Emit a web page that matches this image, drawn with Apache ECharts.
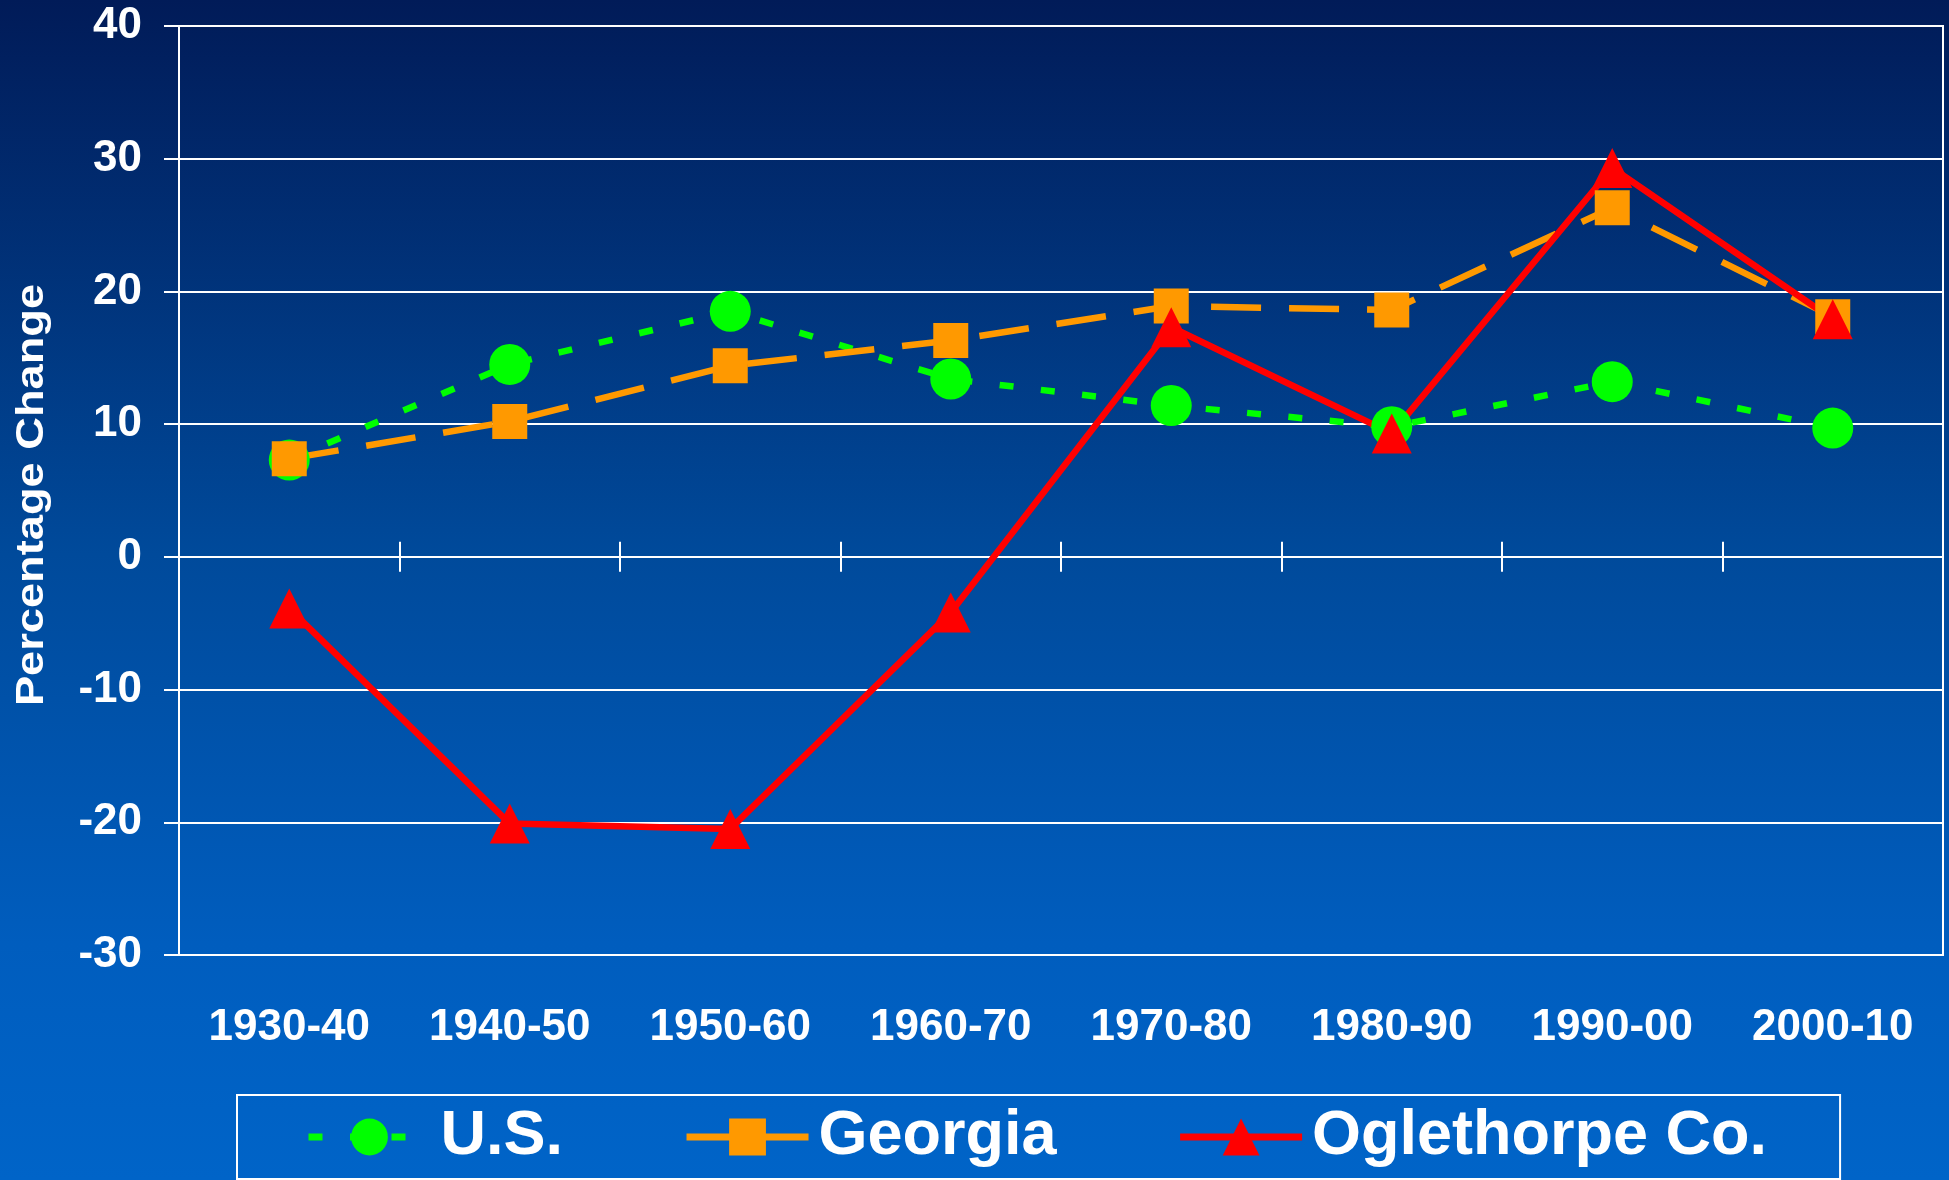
<!DOCTYPE html>
<html>
<head>
<meta charset="utf-8">
<script src="https://cdn.jsdelivr.net/npm/echarts@6/dist/echarts.min.js"></script>
<style>
  html, body { margin: 0; padding: 0; }
  #main { width: 1949px; height: 1180px; }
</style>
</head>
<body>
<div id="main"></div>
<script>
// 数据
var decades = ['1930-40', '1940-50', '1950-60', '1960-70', '1970-80', '1980-90', '1990-00', '2000-10'];
var usValues = [7.3, 14.5, 18.5, 13.4, 11.4, 9.8, 13.2, 9.7];
var georgiaValues = [7.4, 10.2, 14.4, 16.3, 18.9, 18.6, 26.3, 18.1];
var oglethorpeValues = [-3.9, -20.1, -20.5, -4.2, 17.3, 9.3, 29.3, 17.9];
var seriesNames = ['U.S.', 'Georgia', 'Oglethorpe Co.'];
var yMin = -30, yMax = 40, yStep = 10;

var font = '"Liberation Sans", Arial, sans-serif';

var chart = echarts.init(document.getElementById('main'));

var option = {
  animation: false,
  backgroundColor: {
    type: 'linear', x: 0, y: 0, x2: 0, y2: 1,
    colorStops: [
      { offset: 0, color: '#011b58' },
      { offset: 0.47, color: '#004a9b' },
      { offset: 0.8, color: '#005dbe' },
      { offset: 1, color: '#0064c8' }
    ]
  },
  grid: {
    left: 179,
    right: 6,
    top: 26,
    bottom: 225,
    show: true,
    borderColor: '#ffffff',
    borderWidth: 2,
    backgroundColor: 'transparent'
  },
  // 纵轴标题（纵向拉伸一点）
  graphic: [{
    type: 'text',
    x: 33,
    y: 495,
    rotation: Math.PI / 2,
    scaleX: 1.19,
    style: {
      text: 'Percentage Change',
      fill: '#ffffff',
      fontSize: 38,
      fontWeight: 'bold',
      fontFamily: font,
      align: 'center',
      verticalAlign: 'middle'
    }
  }],
  legend: {
    data: seriesNames,
    left: 237,
    top: 1095,
    padding: [10, 73, 10, 68],
    itemWidth: 122,
    itemHeight: 46,
    itemGap: 120,
    borderColor: '#ffffff',
    borderWidth: 2,
    selectedMode: false,
    lineStyle: { width: 7 },
    textStyle: {
      color: '#ffffff',
      fontSize: 63,
      fontWeight: 'bold',
      fontFamily: font,
      lineHeight: 64,
      padding: [0, 0, 0, 5]
    }
  },
  xAxis: [
    {
      // 底部标签
      type: 'category',
      data: decades,
      position: 'bottom',
      axisLine: { show: false, onZero: false },
      axisTick: { show: false },
      splitLine: { show: false },
      axisLabel: {
        color: '#ffffff',
        fontSize: 44,
        fontWeight: 'bold',
        fontFamily: font,
        lineHeight: 44,
        margin: 51
      }
    },
    {
      // 0 线及向下刻度
      type: 'category',
      data: decades,
      position: 'bottom',
      axisLine: { show: true, onZero: true, onZeroAxisIndex: 0, lineStyle: { color: '#ffffff', width: 2 } },
      axisTick: { show: true, length: 15, lineStyle: { color: '#ffffff', width: 2 } },
      axisLabel: { show: false },
      splitLine: { show: false }
    },
    {
      // 向上刻度
      type: 'category',
      data: decades,
      position: 'top',
      axisLine: { show: false, onZero: true, onZeroAxisIndex: 0 },
      axisTick: { show: true, length: 15, lineStyle: { color: '#ffffff', width: 2 } },
      axisLabel: { show: false },
      splitLine: { show: false }
    }
  ],
  yAxis: [{
    type: 'value',
    min: yMin,
    max: yMax,
    interval: yStep,
    axisLine: { show: true, lineStyle: { color: '#ffffff', width: 2 } },
    axisTick: { show: true, length: 15, lineStyle: { color: '#ffffff', width: 2 } },
    splitLine: { show: true, lineStyle: { color: '#ffffff', width: 2 } },
    axisLabel: {
      color: '#ffffff',
      fontSize: 44,
      fontWeight: 'bold',
      fontFamily: font,
      margin: 37
    }
  }],
  series: [
    {
      name: seriesNames[0],
      type: 'line',
      xAxisIndex: 0,
      data: usValues,
      symbol: 'circle',
      symbolSize: 41,
      itemStyle: { color: '#00ff00' },
      lineStyle: { color: '#00ff00', width: 6.5, type: [14, 27.5] }
    },
    {
      name: seriesNames[1],
      type: 'line',
      xAxisIndex: 0,
      data: georgiaValues,
      symbol: 'rect',
      symbolSize: 35,
      itemStyle: { color: '#ff9900' },
      lineStyle: { color: '#ff9900', width: 6.5, type: [50, 28] }
    },
    {
      name: seriesNames[2],
      type: 'line',
      xAxisIndex: 0,
      data: oglethorpeValues,
      symbol: 'triangle',
      symbolSize: 40,
      itemStyle: { color: '#ff0000' },
      lineStyle: { color: '#ff0000', width: 6.5, type: 'solid' }
    }
  ]
};

chart.setOption(option);
</script>
</body>
</html>
